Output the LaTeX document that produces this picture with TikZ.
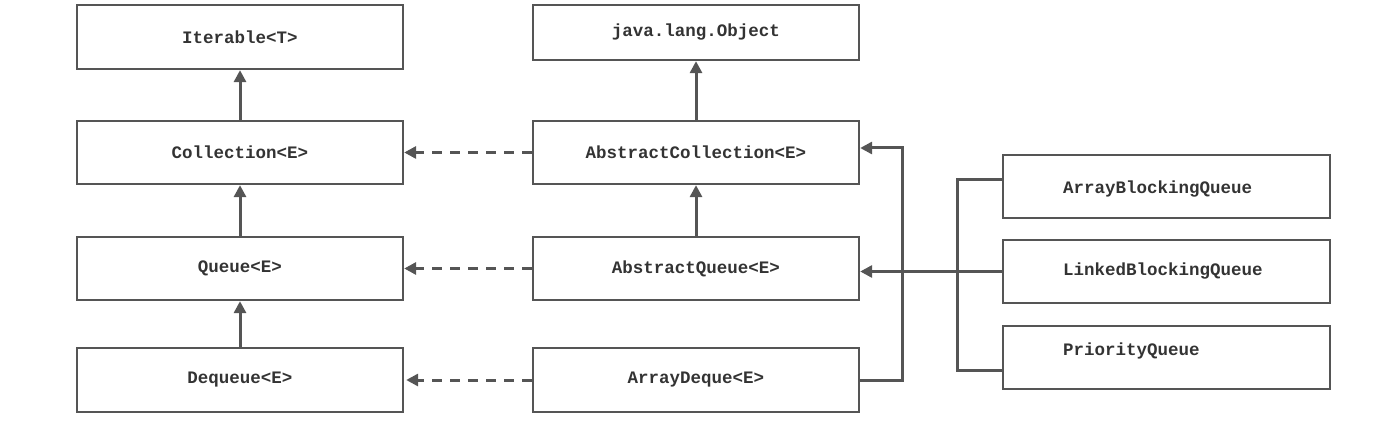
\documentclass[tikz,border=0pt]{standalone}
\usepackage{fontspec}
\setmonofont{Liberation Mono}
\usetikzlibrary{arrows.meta}
\definecolor{ln}{HTML}{555555}
\definecolor{tx}{HTML}{333333}
\tikzset{
  box/.style={draw=ln, line width=2.3pt, rectangle, minimum width=326pt, minimum height=63pt, inner sep=0pt,
    font=\ttfamily\bfseries\fontsize{17.5}{20}\selectfont, text=tx},
  rbox/.style={box, minimum width=327pt, text width=207pt, align=left, text height=12pt, text depth=4pt},
  arr/.style={draw=ln, line width=3pt, -{Triangle[length=12pt,width=12pt]}},
  darr/.style={arr, dash pattern=on 10pt off 8pt},
  conn/.style={draw=ln, line width=3pt}
}
\begin{document}
\begin{tikzpicture}[x=1pt,y=-1pt]
\useasboundingbox (0,0) rectangle (1375,446);
% left column
\node[box, minimum height=64pt] (iter) at (240,37) {Iterable<T>};
\node[box] (coll) at (240,152.5) {Collection<E>};
\node[box] (queue) at (240,268.5) {Queue<E>};
\node[box, minimum height=64pt] (deq) at (240,380) {Dequeue<E>};
% middle column
\node[box, minimum height=55pt] (obj) at (696,32.5) {java.lang.Object};
\node[box] (acoll) at (696,152.5) {AbstractCollection<E>};
\node[box] (aq) at (696,268.5) {AbstractQueue<E>};
\node[box, minimum height=64pt] (adq) at (696,380) {ArrayDeque<E>};
% right column
\node[rbox] (abq) at (1166.5,186.5) {\raisebox{-3pt}{ArrayBlockingQueue}};
\node[rbox] (lbq) at (1166.5,271.5) {LinkedBlockingQueue};
\node[rbox] (pq) at (1166.5,357.5) {\raisebox{6pt}{PriorityQueue}};
% inheritance arrows
\draw[arr] (coll.north) -- (iter.south);
\draw[arr] (queue.north) -- (coll.south);
\draw[arr] (deq.north) -- (queue.south);
\draw[arr] (acoll.north) -- (obj.south);
\draw[arr] (aq.north) -- (acoll.south);
% implementation (dashed)
\draw[darr] (acoll.west) -- (coll.east);
\draw[darr] (aq.west) -- (queue.east);
\draw[darr] (adq.west) -- ([xshift=2pt]deq.east);
% ArrayDeque -> AbstractCollection
\coordinate (j1) at (902,148);
\draw[arr] (adq.east) -| (j1) -- (acoll.east |- j1);
% right bracket
\coordinate (j2) at (957,270);
\draw[conn] ([yshift=6.5pt]abq.west) -| (j2) |- ([yshift=-12.5pt]pq.west);
\draw[arr] (lbq.west) -- (aq.east |- lbq.west);
\end{tikzpicture}
\end{document}
